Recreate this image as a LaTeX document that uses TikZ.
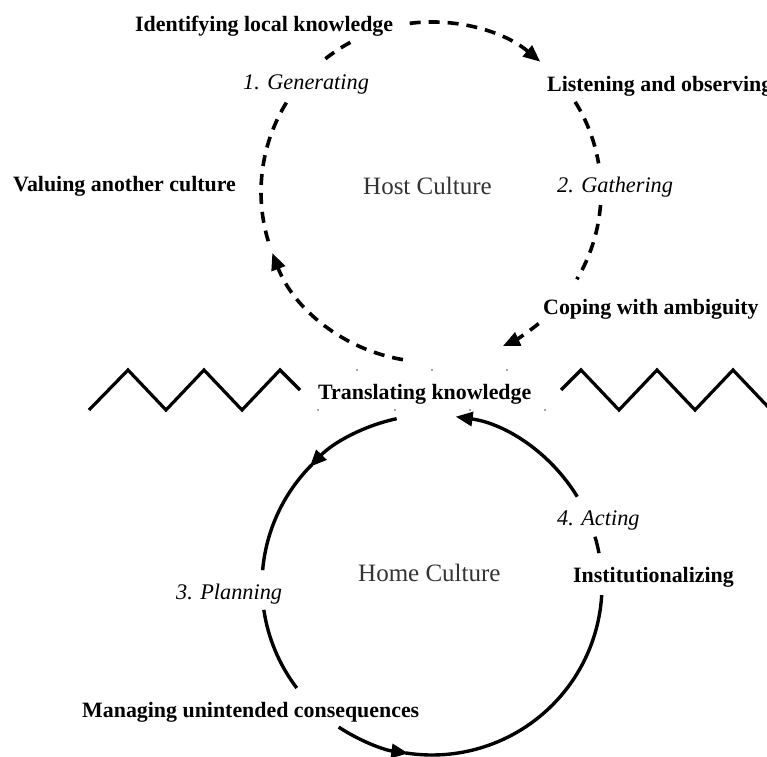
\documentclass[tikz,border=0pt]{standalone}
\usepackage{fontspec}
\setmainfont{Liberation Serif}
\usetikzlibrary{arrows.meta}
\tikzset{
  lbl/.style={font=\fontsize{21.9}{24}\selectfont\bfseries, anchor=base west, inner sep=0pt},
  stage/.style={font=\fontsize{22.3}{24}\selectfont\itshape, anchor=base west, inner sep=0pt},
  culture/.style={font=\fontsize{25}{28}\selectfont, text=black!80, anchor=base west, inner sep=0pt},
  dashline/.style={line width=3.6pt, dash pattern=on 11pt off 8pt},
  solidline/.style={line width=3.4pt},
  tipend/.style={-{Triangle[length=17pt,width=14pt]}},
  zig/.style={line width=3.2pt, line join=miter},
  speck/.style={fill=black!70, draw=none},
}
\begin{document}
\begin{tikzpicture}[x=1pt,y=1pt]
\useasboundingbox (0,0) rectangle (767,756);
% circle centres
\coordinate (H) at (431,564);
\coordinate (L) at (432,171);
% texts (image y -> 756-y)
\node[lbl] (ident) at (135,724) {Identifying local knowledge};
\node[stage] (gen) at (243,666) {1. Generating};
\node[lbl] (listen) at (547,664) {Listening and observing};
\node[lbl] (value) at (13,564) {Valuing another culture};
\node[culture] (host) at (363,561) {Host Culture};
\node[stage] (gath) at (557,563) {2. Gathering};
\node[lbl] (cope) at (543,442) {Coping with ambiguity};
\node[lbl] (trans) at (318,357) {Translating knowledge};
\node[stage] (act) at (557,231) {4. Acting};
\node[culture] (home) at (358,175) {Home Culture};
\node[lbl] (inst) at (573,174) {Institutionalizing};
\node[stage] (plan) at (176,157) {3. Planning};
\node[lbl] (manage) at (82,39) {Managing unintended consequences};
% upper (host) cycle, dashed
\draw[dashline,tipend] (H) ++(97.2:170) arc[start angle=97.2, end angle=50, radius=170];
\draw[dashline] (H) ++(118.3:170) arc[start angle=118.3, end angle=129.7, radius=170];
\draw[dashline] (H) ++(148.3:170) arc[start angle=148.3, end angle=199, radius=170];
\draw[dashline,tipend] (H) ++(260.5:170) arc[start angle=260.5, end angle=201, radius=170];
\draw[dashline] (H) ++(32:170) arc[start angle=32, end angle=9.7, radius=170];
\draw[dashline] (H) ++(-4.4:170) arc[start angle=-4.4, end angle=-30.9, radius=170];
\draw[dashline,tipend] (H) ++(-50.7:170) arc[start angle=-50.7, end angle=-65, radius=170];
% lower (home) cycle, solid
\draw[solidline,tipend] (L) ++(102:170) arc[start angle=102, end angle=136, radius=170];
\draw[solidline] (L) ++(135:170) arc[start angle=135, end angle=175, radius=170];
\draw[solidline] (L) ++(188.4:170) arc[start angle=188.4, end angle=217.3, radius=170];
\draw[solidline,tipend] (L) ++(236.7:170) arc[start angle=236.7, end angle=262, radius=170];
\draw[solidline] (L) ++(261:170) arc[start angle=261, end angle=356.6, radius=170];
\draw[solidline] (L) ++(16.5:170) arc[start angle=16.5, end angle=10.8, radius=170];
\draw[solidline,tipend] (L) ++(31.3:170) arc[start angle=31.3, end angle=82, radius=170];
% zigzag borders
\draw[zig] (89,346) -- (128,386) -- (166,346) -- (204,386) -- (242,346) -- (280,386) -- (300,366);
\draw[zig] (561,366) -- (581,386) -- (619,346) -- (657,386) -- (695,346) -- (733,386) -- (771,346);
% small specks around the middle label
\foreach \x in {357,432,507} \fill[speck] (\x,386) circle (0.8);
\foreach \x in {318,395,470,545} \fill[speck] (\x,346) circle (0.8);
\end{tikzpicture}
\end{document}
